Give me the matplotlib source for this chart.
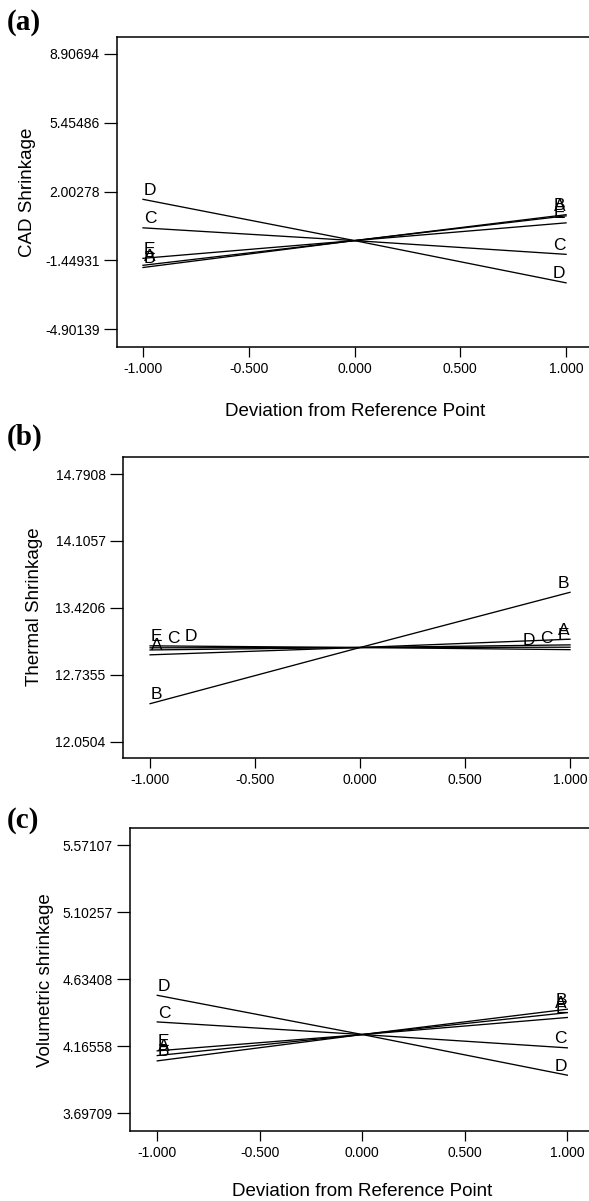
import matplotlib
matplotlib.use('Agg')
import matplotlib.pyplot as plt

plt.rcParams['font.family'] = ['Liberation Sans', 'DejaVu Sans']

# factor levels on the x axis
x_dev = [-1.0, 0.0, 1.0]
factors = ['A', 'B', 'C', 'D', 'E']

# (a) CAD shrinkage
cad_A = [-1.70, -0.46, 0.78]
cad_B = [-1.81, -0.46, 0.84]
cad_C = [0.18, -0.46, -1.15]
cad_D = [1.61, -0.46, -2.58]
cad_E = [-1.35, -0.46, 0.43]
cad_ticks = [-4.90139, -1.44931, 2.00278, 5.45486, 8.90694]

# (b) thermal shrinkage
th_A = [12.94, 13.015, 13.10]
th_B = [12.44, 13.015, 13.58]
th_C = [13.012, 13.015, 13.018]
th_D = [13.032, 13.015, 12.993]
th_E = [12.99, 13.015, 13.042]
th_ticks = [12.0504, 12.7355, 13.4206, 14.1057, 14.7908]

# (c) volumetric shrinkage
vol_A = [4.10, 4.247, 4.40]
vol_B = [4.063, 4.247, 4.424]
vol_C = [4.335, 4.247, 4.154]
vol_D = [4.521, 4.247, 3.963]
vol_E = [4.133, 4.247, 4.366]
vol_ticks = [3.69709, 4.16558, 4.63408, 5.10257, 5.57107]

x_ticks = [-1.0, -0.5, 0.0, 0.5, 1.0]
x_ticklabels = ['-1.000', '-0.500', '0.000', '0.500', '1.000']

W, H = 589, 1201
fig = plt.figure(figsize=(W / 100, H / 100), dpi=100)


def px_axes(left, top, right, bottom):
    return fig.add_axes([left / W, 1 - bottom / H, (right - left) / W, (bottom - top) / H])


def panel(ax, series, yticks, ylim, xlim, shift_l=None, shift_r=None, lift_l=None):
    shift_l = shift_l or {}
    shift_r = shift_r or {}
    lift_l = lift_l or {}
    for name, vals in zip(factors, series):
        ax.plot(x_dev, vals, color='black', lw=0.95)
        ax.annotate(name, xy=(x_dev[0], vals[0]), xytext=(shift_l.get(name, 0.5), lift_l.get(name, 1)),
                    textcoords='offset points', ha='left', va='bottom', fontsize=12.5)
        ax.annotate(name, xy=(x_dev[-1], vals[-1]), xytext=(shift_r.get(name, -0.5), 1),
                    textcoords='offset points', ha='right', va='bottom', fontsize=12.5)
    ax.set_xlim(*xlim)
    ax.set_ylim(*ylim)
    ax.set_yticks(yticks)
    ax.set_yticklabels([('%.6g' % t) for t in yticks])
    ax.set_xticks(x_ticks)
    ax.set_xticklabels(x_ticklabels)
    ax.spines['right'].set_visible(False)
    for s in ['left', 'bottom', 'top']:
        ax.spines[s].set_linewidth(1.1)
    ax.tick_params(axis='y', length=9.5, width=0.9, pad=3, labelsize=10)
    ax.tick_params(axis='x', length=7, width=0.9, pad=3.5, labelsize=10)


ax1 = px_axes(117, 37, 595, 347)
panel(ax1, [cad_A, cad_B, cad_C, cad_D, cad_E], cad_ticks, (-5.80, 9.757), (-1.123, 1.137))

ax2 = px_axes(123, 457, 595, 758)
panel(ax2, [th_A, th_B, th_C, th_D, th_E], th_ticks, (11.884, 14.965), (-1.129, 1.119),
      shift_l={'E': 0.5, 'C': 12.5, 'D': 25}, shift_r={'E': -0.5, 'C': -12.5, 'D': -25},
      lift_l={'E': 4, 'C': 1.5})

ax3 = px_axes(130, 828, 595, 1131)
panel(ax3, [vol_A, vol_B, vol_C, vol_D, vol_E], vol_ticks, (3.573, 5.690), (-1.133, 1.135))

# axis titles
fig.text(27.5 / W, 1 - 192 / H, 'CAD Shrinkage', rotation=90, ha='center', va='center', fontsize=13.5)
fig.text(35 / W, 1 - 607 / H, 'Thermal Shrinkage', rotation=90, ha='center', va='center', fontsize=13.5)
fig.text(46 / W, 1 - 980 / H, 'Volumetric shrinkage', rotation=90, ha='center', va='center', fontsize=13.5)
fig.text(355 / W, 1 - 411 / H, 'Deviation from Reference Point', ha='center', va='center', fontsize=13.5)
fig.text(362 / W, 1 - 1192 / H, 'Deviation from Reference Point', ha='center', va='center', fontsize=13.5)

# panel letters
for lab, top in [('(a)', 9), ('(b)', 424), ('(c)', 807)]:
    fig.text(7 / W, 1 - top / H, lab, ha='left', va='top', fontsize=21,
             family='Liberation Serif', weight='bold')

fig.savefig('out.png', dpi=100)
